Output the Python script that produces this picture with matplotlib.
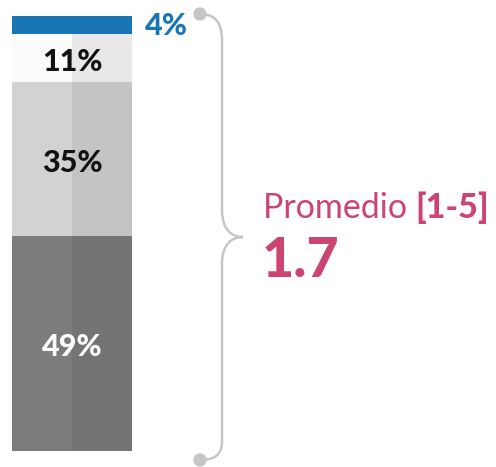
import matplotlib.pyplot as plt
from matplotlib.path import Path
from matplotlib.patches import PathPatch, Circle

# datos (de arriba hacia abajo)
labels = ['4%', '11%', '35%', '49%']
values = [4, 11, 35, 49]
left_colors = ['#1a75b5', '#fbfbfb', '#d1d3d3', '#7b7c7d']
right_colors = ['#1a75b5', '#e8e8e8', '#c3c4c4', '#737474']
text_colors = ['#1a75b5', '#111111', '#111111', '#ffffff']
promedio = 1.7
escala = '[1-5]'

plt.rcParams['font.family'] = ['Lato', 'DejaVu Sans']

W, H = 496, 467
fig = plt.figure(figsize=(W / 100, H / 100), dpi=100)

# barra apilada
ax = fig.add_axes([12 / W, 1 - 451 / H, 120 / W, 435 / H])
total = sum(values)
bottom = total
for lab, v, lc, rc, tc in zip(labels, values, left_colors, right_colors, text_colors):
    bottom -= v
    ax.bar(0, v, width=1, bottom=bottom, color=lc, align='edge', linewidth=0)
    ax.bar(1, v, width=1, bottom=bottom, color=rc, align='edge', linewidth=0)
    if v > 5:
        ax.text(1, bottom + v / 2 - 0.9, lab, ha='center', va='center',
                fontsize=22, fontweight='black', color=tc)
    else:
        ax.text(2.22, bottom + v / 2 - 0.3, lab, ha='left', va='center',
                fontsize=22, fontweight='black', color=tc, clip_on=False)
ax.set_xlim(0, 2)
ax.set_ylim(0, total)
ax.axis('off')

# llave y texto
ov = fig.add_axes([0, 0, 1, 1])
ov.set_xlim(0, W)
ov.set_ylim(H, 0)
ov.axis('off')
gris = '#c6c6c6'
verts = [(200, 14), (216, 14), (222, 24), (222, 40),
         (222, 210),
         (222, 230), (232, 237), (243, 237),
         (232, 237), (222, 244), (222, 264),
         (222, 442),
         (222, 455), (214, 460), (200, 460)]
codes = [Path.MOVETO, Path.CURVE4, Path.CURVE4, Path.CURVE4,
         Path.LINETO,
         Path.CURVE4, Path.CURVE4, Path.CURVE4,
         Path.CURVE4, Path.CURVE4, Path.CURVE4,
         Path.LINETO,
         Path.CURVE4, Path.CURVE4, Path.CURVE4]
ov.add_patch(PathPatch(Path(verts, codes), fill=False, edgecolor=gris, lw=1.8))
ov.add_patch(Circle((200, 14), 6, color=gris))
ov.add_patch(Circle((200, 460), 6, color=gris))

rosa = '#cc4470'
t = ov.text(263, 218, 'Promedio ', fontsize=24.5, color=rosa, va='baseline')
ov.annotate(escala, xy=(1, 0), xycoords=t, fontsize=24.5, fontweight='black',
            color=rosa, va='bottom')
ov.text(262, 277, f'{promedio}', fontsize=40, fontweight='black', color=rosa,
        va='baseline')

fig.savefig('out.png', dpi=100)
